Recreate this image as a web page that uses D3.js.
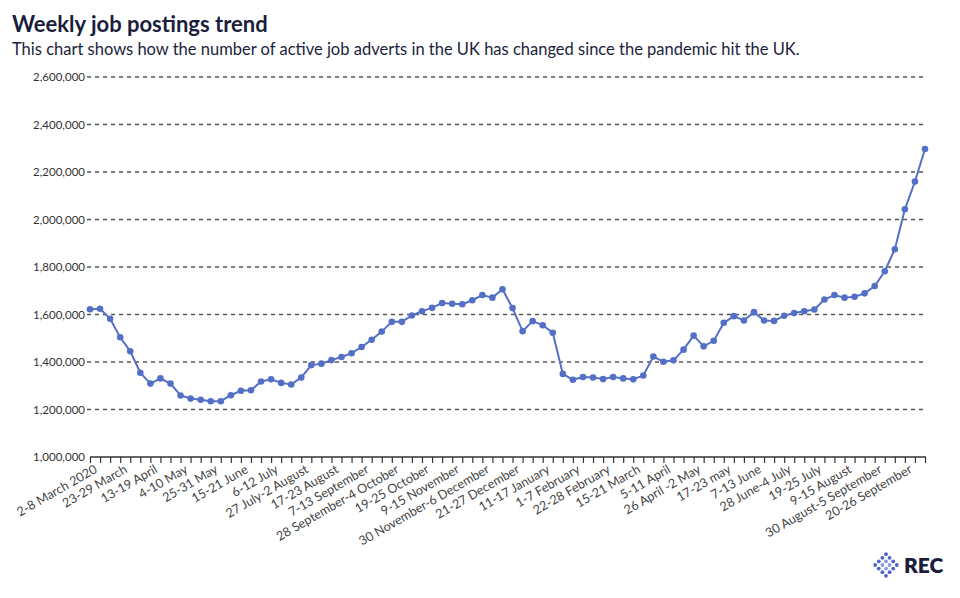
<!DOCTYPE html>
<html>
<head>
<meta charset="utf-8">
<script src="https://cdn.jsdelivr.net/npm/d3@7"></script>
<style>
  body { margin: 0; background: #fff; }
  svg { display: block; font-family: Lato, "Open Sans", sans-serif; }
</style>
</head>
<body>
<svg id="chart" width="960" height="598"></svg>
<script>
const weeks = [
  "2-8 March 2020","9-15 March","16-22 March","23-29 March","30 March-5 April","6-12 April",
  "13-19 April","20-26 April","27 April-3 May","4-10 May","11-17 May","18-24 May",
  "25-31 May","1-7 June","8-14 June","15-21 June","22-28 June","29 June-5 July",
  "6-12 July","13-19 July","20-26 July","27 July-2 August","3-9 August","10-16 August",
  "17-23 August","24-30 August","31 August-6 September","7-13 September","14-20 September","21-27 September",
  "28 September-4 October","5-11 October","12-18 October","19-25 October","26 October-1 November","2-8 November",
  "9-15 November","16-22 November","23-29 November","30 November-6 December","7-13 December","14-20 December",
  "21-27 December","28 December-3 January","4-10 January","11-17 January","18-24 January","25-31 January",
  "1-7 February","8-14 February","15-21 February","22-28 February","1-7 March","8-14 March",
  "15-21 March","22-28 March","29 March-4 April","5-11 April","12-18 April","19-25 April",
  "26 April -2 May","3-9 May","10-16 May","17-23 may","24-30 May","31 May-6 June",
  "7-13 June","14-20 June","21-27 June","28 June-4 July","5-11 July","12-18 July",
  "19-25 July","26 July-1 August","2-8 August","9-15 August","16-22 August","23-29 August",
  "30 August-5 September","6-12 September","13-19 September","20-26 September","27 September-3 October","4-10 October"
];

const postings = [
  1622000,1624000,1582000,1504000,1445000,1355000,1309000,1331000,1309000,1259000,
  1246000,1241000,1235000,1235000,1260000,1279000,1281000,1318000,1327000,1312000,
  1305000,1335000,1387000,1393000,1408000,1421000,1437000,1463000,1494000,1528000,
  1569000,1569000,1596000,1614000,1628000,1648000,1645000,1643000,1660000,1682000,
  1671000,1706000,1627000,1530000,1572000,1555000,1523000,1350000,1325000,1337000,
  1335000,1328000,1337000,1331000,1327000,1343000,1423000,1401000,1407000,1452000,
  1511000,1466000,1489000,1565000,1593000,1575000,1610000,1575000,1573000,1595000,
  1606000,1614000,1621000,1663000,1682000,1671000,1675000,1689000,1720000,1782000,
  1875000,2043000,2160000,2297000
];

const yTicks = [1000000,1200000,1400000,1600000,1800000,2000000,2200000,2400000,2600000];
const labelEvery = 3;

const title = "Weekly job postings trend";
const subtitle = "This chart shows how the number of active job adverts in the UK has changed since the pandemic hit the UK.";

const svg = d3.select("#chart");
const plotLeft = 90, plotRight = 925, plotTop = 77, plotBottom = 457;

const x = d3.scalePoint().domain(weeks).range([plotLeft, plotRight]);
const y = d3.scaleLinear().domain([1000000, 2600000]).range([plotBottom, plotTop]);

// Titles
svg.append("text").attr("x", 12).attr("y", 32)
  .attr("font-size", 22).attr("font-weight", 700).attr("fill", "#1a1e3c")
  .text(title);
svg.append("text").attr("x", 12).attr("y", 55)
  .attr("font-size", 16.5).attr("fill", "#1a1e3c")
  .text(subtitle);

// Gridlines
svg.append("g").selectAll("line")
  .data(yTicks.filter(d => d > 1000000))
  .join("line")
  .attr("x1", plotLeft - 3).attr("x2", plotRight + 1)
  .attr("y1", d => y(d)).attr("y2", d => y(d))
  .attr("stroke", "#555").attr("stroke-width", 1.3)
  .attr("stroke-dasharray", "4,4");

// Y axis labels
const yAxis = d3.axisLeft(y).tickValues(yTicks).tickSize(0).tickPadding(4)
  .tickFormat(d3.format(","));
const gy = svg.append("g").attr("transform", `translate(${plotLeft - 1},0)`).call(yAxis);
gy.select(".domain").remove();
gy.selectAll("text").attr("font-size", 11.5).attr("fill", "#333").attr("font-family", "Lato, sans-serif");

// X axis
const xAxis = d3.axisBottom(x).tickSize(6).tickSizeOuter(0)
  .tickFormat((d, i) => i % labelEvery === 0 ? d : "");
const gx = svg.append("g").attr("transform", `translate(0,${plotBottom})`).call(xAxis);
gx.select(".domain").attr("stroke", "#333").attr("stroke-width", 1.3)
  .attr("d", `M${plotLeft},0H${plotRight + 1}`);
gx.selectAll(".tick line").attr("stroke", "#333").attr("stroke-width", 1.2);
gx.selectAll("text")
  .attr("font-size", 12.6).attr("fill", "#444").attr("font-family", "Lato, sans-serif")
  .attr("text-anchor", "end")
  .attr("dy", "0")
  .attr("transform", "translate(3,7) rotate(-30)");

// Line
const line = d3.line().x((d, i) => x(weeks[i])).y(d => y(d));
svg.append("path").datum(postings)
  .attr("d", line).attr("fill", "none")
  .attr("stroke", "#5470c6").attr("stroke-width", 2);

svg.append("g").selectAll("circle")
  .data(postings)
  .join("circle")
  .attr("cx", (d, i) => x(weeks[i])).attr("cy", d => y(d))
  .attr("r", 3.3).attr("fill", "#5470c6");

// REC logo
const logo = svg.append("g").attr("transform", "translate(886,565)");
const dots = [];
for (let i = -3; i <= 3; i++) {
  for (let j = -3; j <= 3; j++) {
    const m = Math.abs(i) + Math.abs(j);
    if (m <= 3 && m % 2 === 1) dots.push([i, j]);
  }
}
logo.selectAll("circle").data(dots).join("circle")
  .attr("cx", d => d[0] * 3.6)
  .attr("cy", d => d[1] * 3.6)
  .attr("r", 1.9)
  .attr("fill", d => (Math.abs(d[0]) + Math.abs(d[1])) === 3 ? "#4f63c8" : "#8c9ce2");
svg.append("text").attr("x", 904).attr("y", 573)
  .attr("font-size", 21).attr("font-weight", 800).attr("fill", "#1a1e3c")
  .attr("font-family", "Lato, sans-serif")
  .text("REC");
</script>
</body>
</html>
